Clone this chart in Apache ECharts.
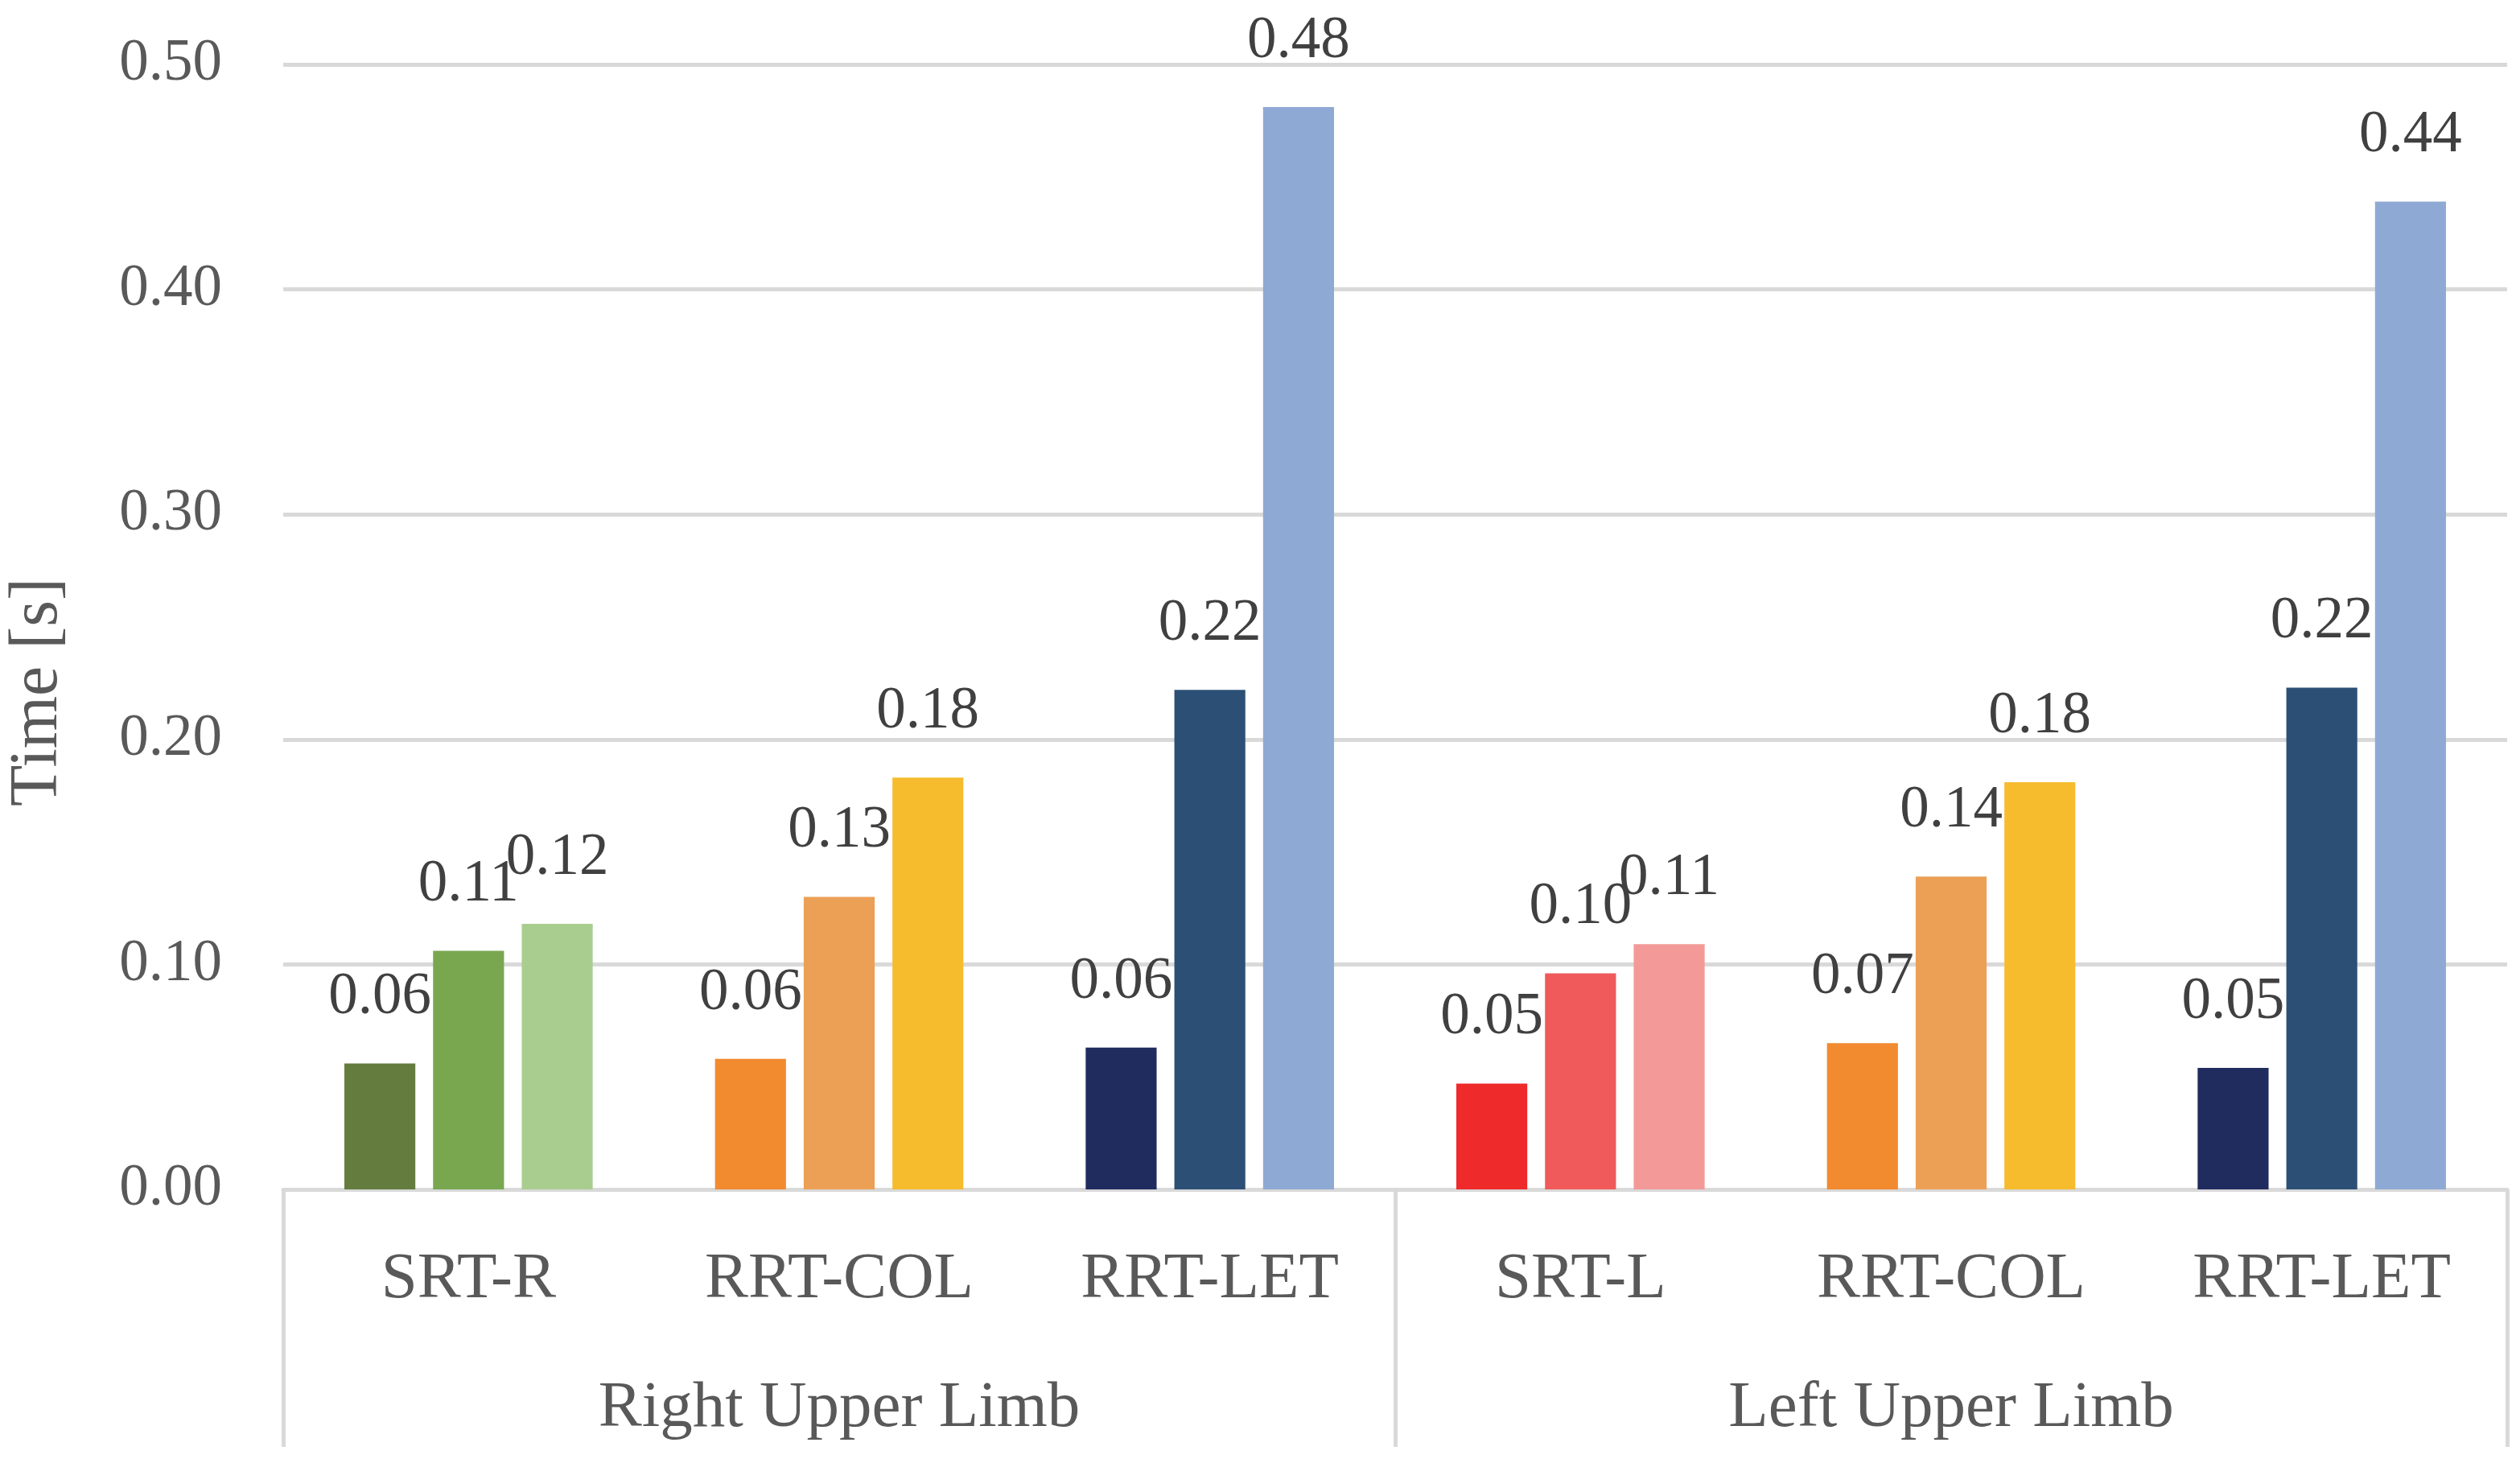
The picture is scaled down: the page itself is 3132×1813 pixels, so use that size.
<!DOCTYPE html>
<html>
<head>
<meta charset="utf-8">
<script src="https://cdn.jsdelivr.net/npm/echarts@6/dist/echarts.min.js"></script>
<style>
html,body{margin:0;padding:0;background:#fff;}
#chart{width:3132px;height:1813px;}
</style>
</head>
<body>
<div id="chart"></div>
<script>
const categories = ['SRT-R', 'RRT-COL', 'RRT-LET', 'SRT-L', 'RRT-COL', 'RRT-LET'];
const groups = ['Right Upper Limb', 'Left Upper Limb'];
const yTicks = [0, 0.1, 0.2, 0.3, 0.4, 0.5];
const bar1 = [0.056, 0.058, 0.063, 0.047, 0.065, 0.054];
const bar2 = [0.106, 0.130, 0.222, 0.096, 0.139, 0.223];
const bar3 = [0.118, 0.183, 0.481, 0.109, 0.181, 0.439];
const greens = ['#647D3F', '#78A750', '#A9CD8F'];
const oranges = ['#F28A30', '#EBA056', '#F6BC2E'];
const blues = ['#212C5E', '#2C5075', '#8FA9D5'];
const reds = ['#EE2A2B', '#F05A5A', '#F39A98'];
const palettes = [greens, oranges, blues, reds, oranges, blues];

const FONT = '"Liberation Serif", "DejaVu Serif", serif';
const seriesData = [bar1, bar2, bar3];

const chart = echarts.init(document.getElementById('chart'), null, {renderer: 'canvas'});
const option = {
  animation: false,
  backgroundColor: '#ffffff',
  grid: {left: 352, right: 16, top: 80, bottom: 335, containLabel: false},
  graphic: [{
    type: 'text',
    x: 48,
    y: 860,
    rotation: Math.PI / 2,
    style: {
      text: 'Time [s]',
      fill: '#595959',
      font: '84px ' + FONT,
      align: 'center',
      verticalAlign: 'middle'
    }
  }],
  xAxis: [
    {
      type: 'category',
      data: categories,
      position: 'bottom',
      axisLine: {show: true, lineStyle: {color: '#D9D9D9', width: 5}},
      axisTick: {show: false},
      axisLabel: {color: '#595959', fontFamily: FONT, fontSize: 81, margin: 72}
    },
    {
      type: 'category',
      data: groups,
      position: 'bottom',
      offset: 0,
      axisLine: {show: false},
      axisTick: {show: true, interval: 0, length: 320, inside: false, lineStyle: {color: '#D9D9D9', width: 5}},
      axisLabel: {color: '#595959', fontFamily: FONT, fontSize: 81, margin: 232}
    }
  ],
  yAxis: {
    type: 'value',
    min: yTicks[0],
    max: yTicks[yTicks.length - 1],
    interval: 0.1,
    axisLine: {show: false},
    axisTick: {show: false},
    axisLabel: {color: '#595959', fontFamily: FONT, fontSize: 73, margin: 76,
      formatter: v => v.toFixed(2)},
    splitLine: {show: true, lineStyle: {color: '#D9D9D9', width: 5}}
  },
  series: seriesData.map((arr, si) => ({
    type: 'bar',
    xAxisIndex: 0,
    barGap: '25%',
    barCategoryGap: '33%',
    data: arr.map((v, ci) => ({value: v, itemStyle: {color: palettes[ci][si]}})),
    label: {
      show: true,
      position: 'top',
      distance: 45,
      color: '#404040',
      fontFamily: FONT,
      fontSize: 73,
      formatter: p => p.value.toFixed(2)
    }
  }))
};
chart.setOption(option);
</script>
</body>
</html>
